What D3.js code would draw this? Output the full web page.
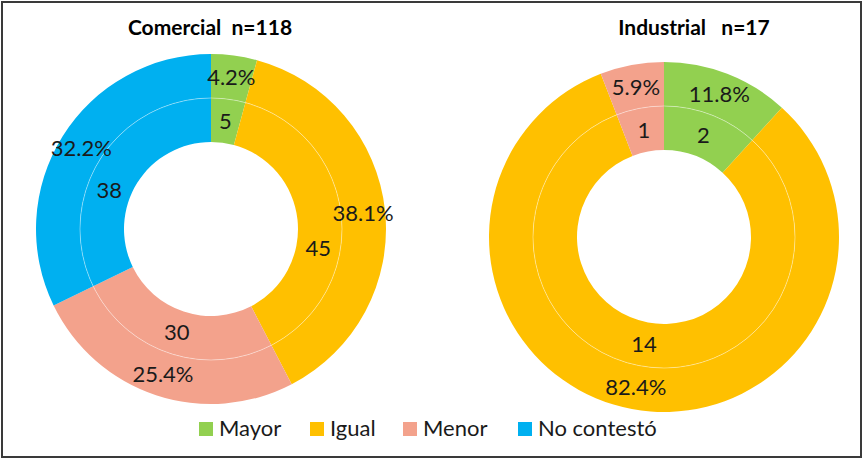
<!DOCTYPE html>
<meta charset="utf-8">
<style>
	body {
		margin: 0;
		background: #fff;
	}

	svg {
		font-family: Lato, "Open Sans", sans-serif;
	}

	.title {
		font-weight: bold;
		font-size: 21px;
		white-space: pre;
	}

	.label {
		font-size: 22px;
		fill: #1a1a1a;
	}

	.legend text {
		font-size: 22px;
		fill: #1a1a1a;
	}
</style>
<script src="https://d3js.org/d3.v7.min.js"></script>
<svg width="864" height="459" class="chart"></svg>
<script>

	var categories = ["Mayor", "Igual", "Menor", "No contestó"];
	var comercial_counts = [5, 45, 30, 38];
	var industrial_counts = [2, 14, 1, 0];
	var titles = ["Comercial  n=118", "Industrial   n=17"];

	var color = d3.scaleOrdinal()
		.domain(categories)
		.range(["#92D050", "#FFC000", "#F3A28C", "#00B0F0"]);

	var svg = d3.select(".chart");

	svg.append("rect")
		.attr("x", 2)
		.attr("y", 2)
		.attr("width", 859)
		.attr("height", 455)
		.attr("fill", "none")
		.attr("stroke", "#3a3a3a")
		.attr("stroke-width", 2);

	var r_hole = 87, r_mid = 131, r_outer = 175;

	var pie = d3.pie()
		.sort(null)
		.value(function(d) { return d.count; });

	var inner_arc = d3.arc().innerRadius(r_hole).outerRadius(r_mid);
	var outer_arc = d3.arc().innerRadius(r_mid).outerRadius(r_outer);

	var pct = d3.format(".1%");

	// the inner labels of the big slices were dragged a bit in the original (degrees)
	function label_pos(arc, d, nudge) {
		var shift = (nudge[d.data.name] || 0) * Math.PI / 180;
		return arc.centroid({startAngle: d.startAngle + shift, endAngle: d.endAngle + shift});
	}

	function draw_donut(counts, cx, cy, title, tx, nudge) {
		var data = categories.map(function(c, i) { return {name: c, count: counts[i]}; })
			.filter(function(d) { return d.count > 0; });
		var total = d3.sum(data, function(d) { return d.count; });
		var slices = pie(data);

		var g = svg.append("g")
			.attr("transform", "translate(" + cx + "," + cy + ")");

		g.selectAll(".inner")
			.data(slices)
			.enter().append("path")
				.attr("class", "inner")
				.attr("d", inner_arc)
				.attr("fill", function(d) { return color(d.data.name); });

		g.selectAll(".outer")
			.data(slices)
			.enter().append("path")
				.attr("class", "outer")
				.attr("d", outer_arc)
				.attr("fill", function(d) { return color(d.data.name); });

		// faint ring between the two series
		g.append("circle")
			.attr("r", r_mid)
			.attr("fill", "none")
			.attr("stroke", "#fff")
			.attr("stroke-opacity", 0.4)
			.attr("stroke-width", 1);

		g.selectAll(".count")
			.data(slices)
			.enter().append("text")
				.attr("class", "label count")
				.attr("transform", function(d) { return "translate(" + label_pos(inner_arc, d, nudge) + ")"; })
				.attr("text-anchor", "middle")
				.attr("dy", "0.36em")
				.text(function(d) { return d.data.count; });

		g.selectAll(".pct")
			.data(slices)
			.enter().append("text")
				.attr("class", "label pct")
				.attr("transform", function(d) { return "translate(" + outer_arc.centroid(d) + ")"; })
				.attr("text-anchor", "middle")
				.attr("dy", "0.36em")
				.text(function(d) { return pct(d.data.count / total); });

		svg.append("text")
			.attr("class", "title")
			.attr("x", tx)
			.attr("y", 35)
			.attr("text-anchor", "middle")
			.text(title);
	}

	draw_donut(comercial_counts, 211, 229, titles[0], 210, {"Igual": 16, "No contestó": -11});
	draw_donut(industrial_counts, 664, 237, titles[1], 694, {});

	var legend_x = [199, 310, 403, 518];

	var legend = svg.append("g")
		.attr("class", "legend")
		.selectAll("g")
		.data(categories)
		.enter().append("g")
			.attr("transform", function(d, i) { return "translate(" + legend_x[i] + ",422)"; });

	legend.append("rect")
		.attr("width", 14)
		.attr("height", 14)
		.attr("fill", function(d) { return color(d); });

	legend.append("text")
		.attr("x", 20)
		.attr("y", 14)
		.text(function(d) { return d; });

</script>
